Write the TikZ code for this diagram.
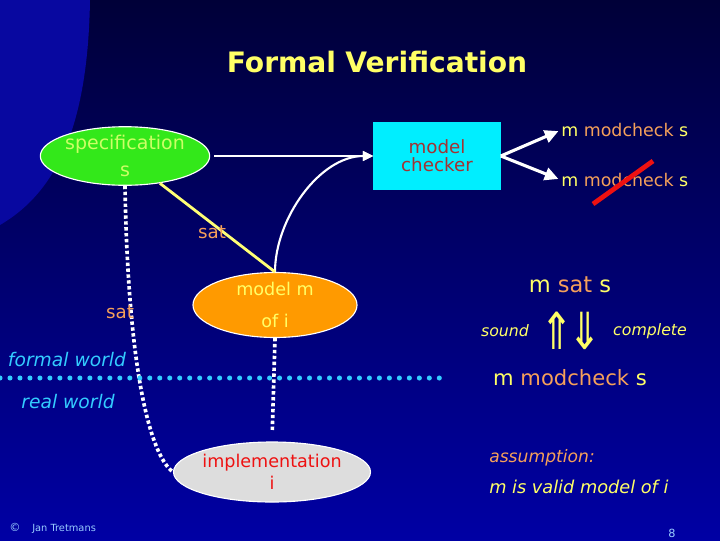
\documentclass[tikz,border=0pt]{standalone}
\usepackage{fontspec}
\setmainfont{DejaVu Sans}
\usetikzlibrary{arrows.meta,calc,positioning,shapes.geometric}
\definecolor{Navy}{HTML}{000038}
\definecolor{NavyLight}{HTML}{0000A4}
\definecolor{Sheen}{HTML}{0808A0}
\definecolor{Yellow}{HTML}{FFFF66}
\definecolor{Salmon}{HTML}{F5A05A}
\definecolor{Green}{HTML}{33E81A}
\definecolor{GreenText}{HTML}{CCFF66}
\definecolor{Cyan}{HTML}{00EEFF}
\definecolor{Brick}{HTML}{A33333}
\definecolor{Orange}{HTML}{FF9A00}
\definecolor{Grey}{HTML}{DDDDDD}
\definecolor{Red}{HTML}{EE1111}
\definecolor{Sky}{HTML}{33CCFF}
\definecolor{Note}{HTML}{99CCFF}
\tikzset{oval/.style={ellipse,draw=white,line width=.8pt,minimum width=4.1cm,minimum height=1.45cm,align=center,inner sep=0pt},flow/.style={-{Triangle[length=2.6mm,width=2.4mm]},draw=white,line width=1.5pt},link/.style={draw=white,line width=2.6pt,dash pattern=on 2.4pt off 1.8pt},label/.style={font=\fontsize{13}{15}\selectfont,text=Salmon,inner sep=0pt},world/.style={font=\fontsize{13.3}{15}\selectfont\itshape,text=Sky,inner sep=0pt},claim/.style={font=\fontsize{12.4}{15}\selectfont,text=Yellow,inner sep=0pt}}

\begin{document}
\begin{tikzpicture}[x=0.025cm,y=-0.025cm]
      \useasboundingbox (0,0) rectangle (720,540);
      \fill[top color=Navy,bottom color=NavyLight] (0,0) rectangle (720,540);
      \fill[Sheen] (0,0) -- (90,0) .. controls (88,120) and (60,190) .. (0,225) -- cycle;
      % slide title
      \node[font=\fontsize{20}{24}\selectfont\bfseries,text=Yellow](title) at (377,62){Formal\,\,Verification};
      % the three models
      \node[oval,fill=Green,text=GreenText,font=\fontsize{13.5}{19}\selectfont](spec) at (125,156){specification\\s};
      \node[rectangle,fill=Cyan,text=Brick,minimum width=3.175cm,minimum height=1.7cm,align=center,font=\fontsize{13}{13}\selectfont](checker) at (437,156){model\\checker};
      \node[oval,fill=Orange,text=Yellow,minimum height=1.375cm,font=\fontsize{12.5}{23}\selectfont](model) at (275,305){model m\\of i};
      \node[oval,fill=Grey,text=Red,minimum height=1.5cm,font=\fontsize{12.5}{16}\selectfont](impl) at (272,472){implementation\\i};
      \draw[flow,shorten <=3pt](spec.east)--(checker.west);
      \draw[flow](model.north) to[out=90,in=180,looseness=.9] (checker.west);
      \draw[draw=Yellow!90!white,line width=2pt](spec.-38)--(model.north);
      \node[label](sat) at (212,232){sat};
      \draw[link,shorten >=8pt](model.south)--(impl.north);
      \draw[link](spec.south) .. controls (128,370) and (150,455) .. (impl.west);
      \node[label](satimpl) at (120,312){sat};
      % formal and real world
      \coordinate (wl) at (0,378);
      \coordinate (wr) at (440,378);
      \draw[Sky,line width=3.6pt,line cap=round,dash pattern=on 0pt off 7.1pt](wl)--(wr);
      \node[world](formal) at (67,360){formal world};
      \node[world](real) at (68,402){real world};
      % checker verdicts
      \node[claim,anchor=west](yes) at (561,130){m \textcolor{Salmon}{modcheck} s};
      \node[claim,anchor=west](no) at (561,180){m \textcolor{Salmon}{modcheck} s};
      \draw[flow,line width=2.2pt,-{Triangle[length=3.4mm,width=3.2mm]},shorten >=2pt](checker.east)--(yes.west);
      \draw[flow,line width=2.2pt,-{Triangle[length=3.4mm,width=3.2mm]},shorten >=2pt](checker.east)--(no.west);
      \draw[Red,line width=3.4pt](593,204)--(653,161);
      % sound and complete
      \node[claim,font=\fontsize{16}{18}\selectfont](msat) at (570,285){m \textcolor{Salmon}{sat} s};
      \node[text=Yellow,font=\fontsize{28}{30}\selectfont,inner sep=0pt](iff) at (571,331){\scalebox{1}[1.3]{⇑\hspace{-4pt}⇓}};
      \node[claim,font=\fontsize{11.2}{13}\selectfont\itshape](sound) at (505,331){sound};
      \node[claim,font=\fontsize{11.2}{13}\selectfont\itshape](complete) at (650,331){complete};
      \node[claim,font=\fontsize{15}{18}\selectfont](mcheck) at (570,378){m \textcolor{Salmon}{modcheck} s};
      \node[claim,font=\fontsize{12.2}{14}\selectfont\itshape,text=Salmon,anchor=west](assume) at (489,458){assumption:};
      \node[claim,font=\fontsize{12.6}{14}\selectfont\itshape,anchor=west](valid) at (489,487){m is valid model of i};
      % footer
      \node[text=Note,font=\fontsize{8}{9}\selectfont,inner sep=0pt](copy) at (15,527){©};
      \node[text=Note,font=\fontsize{7}{9}\selectfont,inner sep=0pt,anchor=west](author) at (32,529){Jan Tretmans};
      \node[text=Note,font=\fontsize{8}{9}\selectfont,inner sep=0pt](page) at (672,533){8};
    \end{tikzpicture}
\end{document}
